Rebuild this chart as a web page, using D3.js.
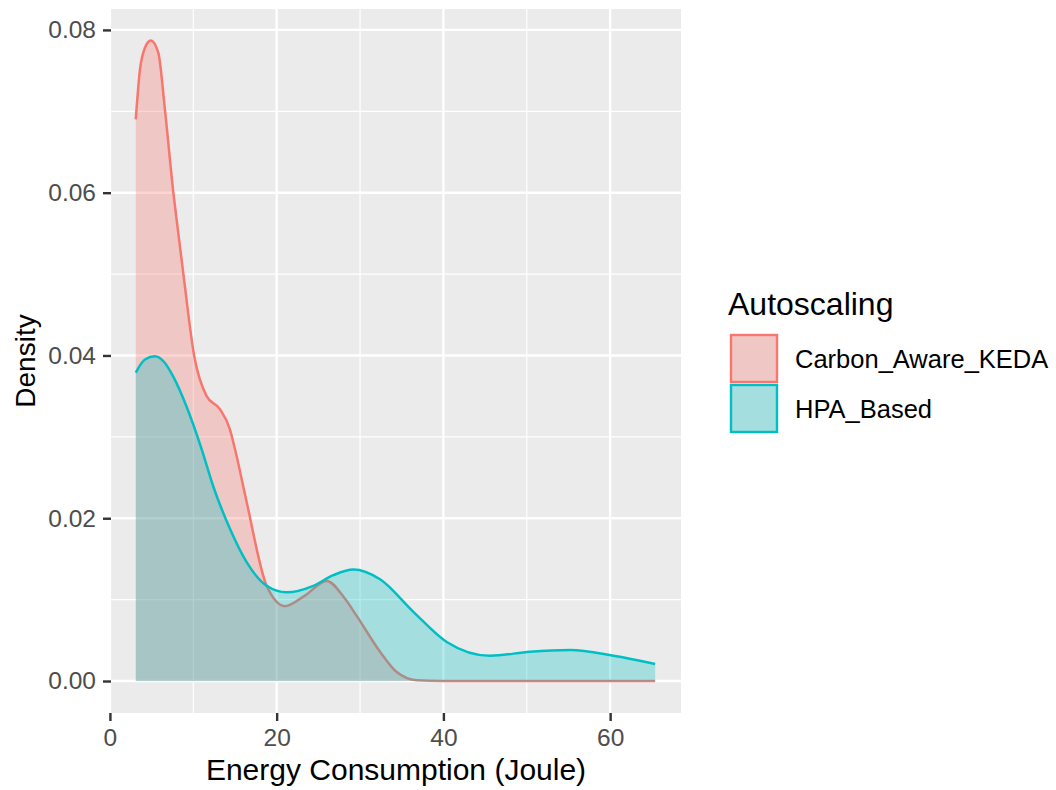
<!DOCTYPE html>
<html>
<head>
<meta charset="utf-8">
<script src="https://cdn.jsdelivr.net/npm/d3@7"></script>
<style>
  body { margin: 0; background: #FFFFFF; }
  svg text { font-family: "Liberation Sans", Arial, sans-serif; }
</style>
</head>
<body>
<svg></svg>
<script>
const RED = '#F8766D';
const TEAL = '#00BFC4';
const groups = ['Carbon_Aware_KEDA', 'HPA_Based'];
const colors = [RED, TEAL];

// density curve (energy in joule, density)
const kedaX = [3.1, 3.6, 4.2, 4.9, 5.8, 6.6, 7.6, 8.0, 8.8, 10.1, 11.6, 13.2, 14.4, 15.0, 16.4, 18.8, 21.0, 23.4, 26.0, 28.2, 29.6, 32.4, 34.4, 36.8, 40, 45, 50, 55, 60, 65.4];
const kedaY = [0.0690, 0.0751, 0.0778, 0.0787, 0.0772, 0.0702, 0.0601, 0.0567, 0.0501, 0.0400, 0.0350, 0.0334, 0.0309, 0.0285, 0.0220, 0.0117, 0.0092, 0.0105, 0.0123, 0.0101, 0.0080, 0.0036, 0.0011, 0.0001, 0, 0, 0, 0, 0, 0];

const hpaX = [3.1, 4.2, 5.4, 6.5, 7.6, 9.2, 11.0, 12.4, 14.4, 16.4, 18.8, 21.2, 24.4, 26.8, 29.2, 32.4, 36.4, 40.4, 45.6, 50.4, 55.2, 60.4, 65.4];
const hpaY = [0.0379, 0.0395, 0.0399, 0.0392, 0.0374, 0.0337, 0.0285, 0.0239, 0.0187, 0.0146, 0.0117, 0.0109, 0.0117, 0.0130, 0.0137, 0.0125, 0.0085, 0.0048, 0.0031, 0.0036, 0.0038, 0.0031, 0.0021];

const xTicks = [0, 20, 40, 60];
const xMinor = [10, 30, 50];
const yTicks = [0, 0.02, 0.04, 0.06, 0.08];
const yMinor = [0.01, 0.03, 0.05, 0.07];

const svgWidth = 1056;
const svgHeight = 790;
const panel = { left: 111, right: 681, top: 9, bottom: 713 };

const svg = d3.select("svg")
  .attr("width", svgWidth)
  .attr("height", svgHeight);

const x = d3.scaleLinear()
  .domain([0.13, 68.5])
  .range([panel.left, panel.right]);

const y = d3.scaleLinear()
  .domain([-0.00393, 0.08257])
  .range([panel.bottom, panel.top]);

// panel background
svg.append("rect")
  .attr("x", panel.left)
  .attr("y", panel.top)
  .attr("width", panel.right - panel.left)
  .attr("height", panel.bottom - panel.top)
  .attr("fill", "#EBEBEB");

// grid lines, minor first
const grid = svg.append("g");
grid.selectAll(".xminor").data(xMinor).enter().append("line")
  .attr("x1", d => x(d)).attr("x2", d => x(d))
  .attr("y1", panel.top).attr("y2", panel.bottom)
  .attr("stroke", "white").attr("stroke-width", 1.2);
grid.selectAll(".yminor").data(yMinor).enter().append("line")
  .attr("x1", panel.left).attr("x2", panel.right)
  .attr("y1", d => y(d)).attr("y2", d => y(d))
  .attr("stroke", "white").attr("stroke-width", 1.2);
grid.selectAll(".xmajor").data(xTicks).enter().append("line")
  .attr("x1", d => x(d)).attr("x2", d => x(d))
  .attr("y1", panel.top).attr("y2", panel.bottom)
  .attr("stroke", "white").attr("stroke-width", 2.4);
grid.selectAll(".ymajor").data(yTicks).enter().append("line")
  .attr("x1", panel.left).attr("x2", panel.right)
  .attr("y1", d => y(d)).attr("y2", d => y(d))
  .attr("stroke", "white").attr("stroke-width", 2.4);

// density areas, each group: fill then upper outline
const series = [
  kedaX.map((v, i) => [v, kedaY[i]]),
  hpaX.map((v, i) => [v, hpaY[i]])
];

const area = d3.area()
  .x(d => x(d[0]))
  .y0(y(0))
  .y1(d => y(d[1]))
  .curve(d3.curveMonotoneX);

const line = d3.line()
  .x(d => x(d[0]))
  .y(d => y(d[1]))
  .curve(d3.curveMonotoneX);

series.forEach((s, i) => {
  svg.append("path")
    .datum(s)
    .attr("d", area)
    .attr("fill", colors[i])
    .attr("fill-opacity", 0.3);
  svg.append("path")
    .datum(s)
    .attr("d", line)
    .attr("fill", "none")
    .attr("stroke", colors[i])
    .attr("stroke-width", 2.5);
});

// axes
const xAxis = svg.append("g")
  .attr("transform", `translate(0,${panel.bottom})`)
  .call(d3.axisBottom(x).tickValues(xTicks).tickSize(8).tickPadding(5).tickFormat(d3.format("d")));
const yAxis = svg.append("g")
  .attr("transform", `translate(${panel.left},0)`)
  .call(d3.axisLeft(y).tickValues(yTicks).tickSize(8).tickPadding(7).tickFormat(d3.format(".2f")));

[xAxis, yAxis].forEach(a => {
  a.select(".domain").remove();
  a.selectAll(".tick line").attr("stroke", "#333333").attr("stroke-width", 2.4);
  a.selectAll(".tick text").attr("fill", "#4D4D4D").style("font-size", "24.5px");
});
xAxis.selectAll(".tick text").attr("dy", "0.8em");

// axis titles
svg.append("text")
  .attr("x", (panel.left + panel.right) / 2)
  .attr("y", 780)
  .attr("text-anchor", "middle")
  .style("font-size", "30px")
  .attr("fill", "black")
  .text("Energy Consumption (Joule)");

svg.append("text")
  .attr("transform", `translate(35,${(panel.top + panel.bottom) / 2}) rotate(-90)`)
  .attr("text-anchor", "middle")
  .style("font-size", "28px")
  .attr("fill", "black")
  .text("Density");

// legend
const legend = svg.append("g");
legend.append("text")
  .attr("x", 728)
  .attr("y", 315)
  .style("font-size", "32px")
  .attr("fill", "black")
  .text("Autoscaling");

groups.forEach((g, i) => {
  const ky = 335 + i * 50;
  legend.append("rect")
    .attr("x", 731)
    .attr("y", ky)
    .attr("width", 46)
    .attr("height", 47)
    .attr("fill", "#EBEBEB");
  legend.append("rect")
    .attr("x", 731)
    .attr("y", ky)
    .attr("width", 46)
    .attr("height", 47)
    .attr("fill", colors[i])
    .attr("fill-opacity", 0.3)
    .attr("stroke", colors[i])
    .attr("stroke-width", 2.4);
  legend.append("text")
    .attr("x", 795)
    .attr("y", ky + 24)
    .attr("dy", "0.35em")
    .style("font-size", "25.5px")
    .attr("fill", "black")
    .text(g);
});
</script>
</body>
</html>
